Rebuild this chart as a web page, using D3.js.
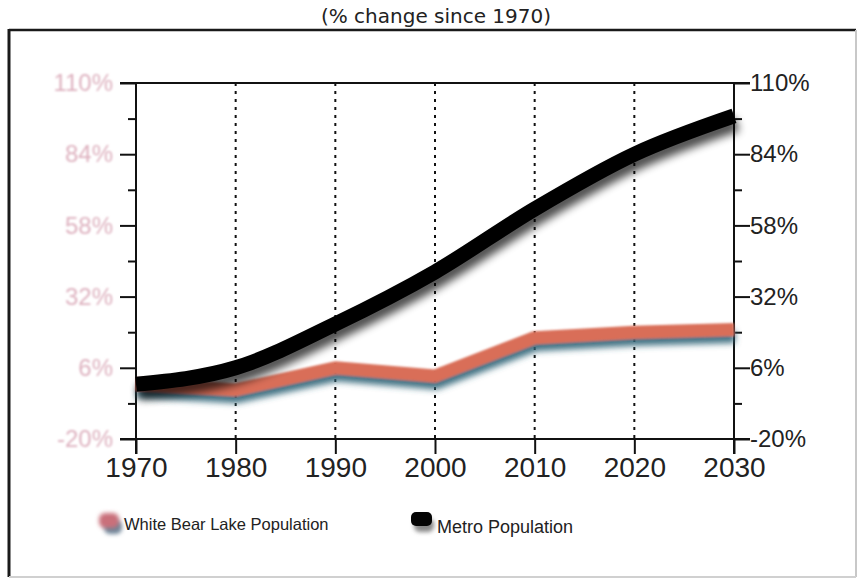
<!DOCTYPE html>
<html>
<head>
<meta charset="utf-8">
<script src="https://cdn.jsdelivr.net/npm/d3@7"></script>
<style>
  html, body { margin: 0; padding: 0; background: #fff; }
  svg { display: block; }
</style>
</head>
<body>
<script>
// Population change since 1970, in percent
const years = [1970, 1980, 1990, 2000, 2010, 2020, 2030];
const whiteBearLake = [0, -2, 6, 3, 17, 19, 20];
const metro = [0, 6, 22, 41, 64, 84, 98];
const yTicks = [-20, 6, 32, 58, 84, 110];
const yMinorTicks = [-7, 19, 45, 71, 97];
const seriesNames = ["White Bear Lake Population", "Metro Population"];
const title = "(% change since 1970)";

const W = 858, H = 582;
const svg = d3.select("body").append("svg").attr("width", W).attr("height", H);

const defs = svg.append("defs");
// soft drop shadow under the metro line
const fMetro = defs.append("filter").attr("id", "shadowMetro")
  .attr("x", "-10%").attr("y", "-20%").attr("width", "130%").attr("height", "160%");
fMetro.append("feGaussianBlur").attr("in", "SourceAlpha").attr("stdDeviation", 4.5).attr("result", "b");
fMetro.append("feOffset").attr("in", "b").attr("dx", 3).attr("dy", 8).attr("result", "o");
fMetro.append("feComponentTransfer").attr("in", "o").attr("result", "s")
  .append("feFuncA").attr("type", "linear").attr("slope", 0.7);
const mM = fMetro.append("feMerge");
mM.append("feMergeNode").attr("in", "s");
mM.append("feMergeNode").attr("in", "SourceGraphic");

// bluish shadow under the White Bear Lake line
const fLake = defs.append("filter").attr("id", "shadowLake")
  .attr("x", "-10%").attr("y", "-50%").attr("width", "130%").attr("height", "250%");
fLake.append("feGaussianBlur").attr("in", "SourceAlpha").attr("stdDeviation", 3).attr("result", "b");
fLake.append("feOffset").attr("in", "b").attr("dx", 1).attr("dy", 7).attr("result", "o");
fLake.append("feFlood").attr("flood-color", "#2f6477").attr("flood-opacity", 0.9).attr("result", "c");
fLake.append("feComposite").attr("in", "c").attr("in2", "o").attr("operator", "in").attr("result", "s");
fLake.append("feGaussianBlur").attr("in", "SourceGraphic").attr("stdDeviation", 1).attr("result", "g");
const mL = fLake.append("feMerge");
mL.append("feMergeNode").attr("in", "s");
mL.append("feMergeNode").attr("in", "g");

const fSoft = defs.append("filter").attr("id", "soft");
fSoft.append("feGaussianBlur").attr("stdDeviation", 0.8);

const fBlob = defs.append("filter").attr("id", "blob")
  .attr("x", "-60%").attr("y", "-60%").attr("width", "220%").attr("height", "260%");
fBlob.append("feGaussianBlur").attr("stdDeviation", 2);

// outer frame: dark top/left, light bottom/right
svg.append("line").attr("x1", 9).attr("y1", 30).attr("x2", 856).attr("y2", 30)
  .attr("stroke", "#1a1a1a").attr("stroke-width", 2.5);
svg.append("line").attr("x1", 9).attr("y1", 29).attr("x2", 9).attr("y2", 577)
  .attr("stroke", "#1a1a1a").attr("stroke-width", 3);
svg.append("line").attr("x1", 856).attr("y1", 30).attr("x2", 856).attr("y2", 577)
  .attr("stroke", "#c8c8c8").attr("stroke-width", 2);
svg.append("line").attr("x1", 9).attr("y1", 577).attr("x2", 856).attr("y2", 577)
  .attr("stroke", "#d0d0d0").attr("stroke-width", 2);

svg.append("text").attr("x", 436).attr("y", 23).attr("text-anchor", "middle")
  .attr("font-family", "DejaVu Sans, sans-serif").attr("font-size", 20)
  .attr("fill", "#222").text(title);

const x = d3.scaleLinear().domain([1970, 2030]).range([136, 734]);
const y = d3.scaleLinear().domain([-20, 110]).range([439, 83]);

// dotted decade guides
svg.append("g").selectAll("line").data(years.slice(1, -1)).join("line")
  .attr("x1", d => x(d)).attr("x2", d => x(d))
  .attr("y1", y(110)).attr("y2", y(-20))
  .attr("stroke", "#111").attr("stroke-width", 2).attr("stroke-dasharray", "3,5");

// top and bottom rules
[110, -20].forEach(v => {
  svg.append("line").attr("x1", 120).attr("x2", 750).attr("y1", y(v)).attr("y2", y(v))
    .attr("stroke", "#111").attr("stroke-width", 2);
});

// left axis (pale labels)
const leftMinor = svg.append("g").attr("transform", `translate(${x(1970)},0)`)
  .call(d3.axisLeft(y).tickValues(yMinorTicks).tickSize(8).tickFormat(""));
const leftAxis = svg.append("g").attr("transform", `translate(${x(1970)},0)`)
  .call(d3.axisLeft(y).tickValues(yTicks).tickSize(16).tickPadding(7).tickFormat(d => d + "%"));
leftAxis.selectAll("text").attr("font-family", "Liberation Sans, Arial, sans-serif")
  .attr("font-size", 24).attr("fill", "#ddb0be").attr("filter", "url(#soft)");

// right axis
const rightMinor = svg.append("g").attr("transform", `translate(${x(2030)},0)`)
  .call(d3.axisRight(y).tickValues(yMinorTicks).tickSize(8).tickFormat(""));
const rightAxis = svg.append("g").attr("transform", `translate(${x(2030)},0)`)
  .call(d3.axisRight(y).tickValues(yTicks).tickSize(16).tickPadding(0).tickFormat(d => d + "%"));
rightAxis.selectAll("text").attr("font-family", "Liberation Sans, Arial, sans-serif")
  .attr("font-size", 24).attr("fill", "#222");

// bottom axis
const bottomAxis = svg.append("g").attr("transform", `translate(0,${y(-20)})`)
  .call(d3.axisBottom(x).tickValues(years).tickSize(15).tickPadding(3).tickFormat(d3.format("d")));
bottomAxis.selectAll("text").attr("font-family", "Liberation Sans, Arial, sans-serif")
  .attr("font-size", 28).attr("fill", "#222");

[leftMinor, leftAxis, rightMinor, rightAxis, bottomAxis].forEach(g => {
  g.select(".domain").remove();
  g.selectAll(".tick line").attr("stroke", "#111").attr("stroke-width", 2);
});

// vertical axis lines, running a little past the bottom rule
[1970, 2030].forEach(v => {
  svg.append("line").attr("x1", x(v)).attr("x2", x(v)).attr("y1", y(110)).attr("y2", y(-20) + 15)
    .attr("stroke", "#111").attr("stroke-width", 2);
});

// series lines
const lakeLine = d3.line().x((d, i) => x(years[i])).y(d => y(d));
const metroLine = d3.line().x((d, i) => x(years[i])).y(d => y(d)).curve(d3.curveMonotoneX);

svg.append("path").datum(whiteBearLake).attr("d", lakeLine)
  .attr("fill", "none").attr("stroke", "#d96e58").attr("stroke-width", 13)
  .attr("stroke-linejoin", "round").attr("filter", "url(#shadowLake)");

svg.append("path").datum(metro).attr("d", metroLine)
  .attr("fill", "none").attr("stroke", "#050505").attr("stroke-width", 15)
  .attr("stroke-linejoin", "round").attr("filter", "url(#shadowMetro)");

// legend
const legend = svg.append("g");
legend.append("rect").attr("x", 104).attr("y", 520).attr("width", 18).attr("height", 14).attr("rx", 6)
  .attr("fill", "#6f8598").attr("filter", "url(#blob)");
legend.append("rect").attr("x", 99).attr("y", 513).attr("width", 20).attr("height", 15).attr("rx", 6)
  .attr("fill", "#c9707a").attr("filter", "url(#blob)");
legend.append("text").attr("x", 124).attr("y", 530)
  .attr("font-family", "Liberation Sans, Arial, sans-serif").attr("font-size", 16.5)
  .attr("fill", "#222").text(seriesNames[0]);
legend.append("rect").attr("x", 414).attr("y", 518).attr("width", 20).attr("height", 14).attr("rx", 6)
  .attr("fill", "#888").attr("filter", "url(#blob)");
legend.append("rect").attr("x", 411).attr("y", 512).attr("width", 21).attr("height", 14).attr("rx", 5)
  .attr("fill", "#050505");
legend.append("text").attr("x", 437).attr("y", 533)
  .attr("font-family", "Liberation Sans, Arial, sans-serif").attr("font-size", 18)
  .attr("fill", "#222").text(seriesNames[1]);
</script>
</body>
</html>
